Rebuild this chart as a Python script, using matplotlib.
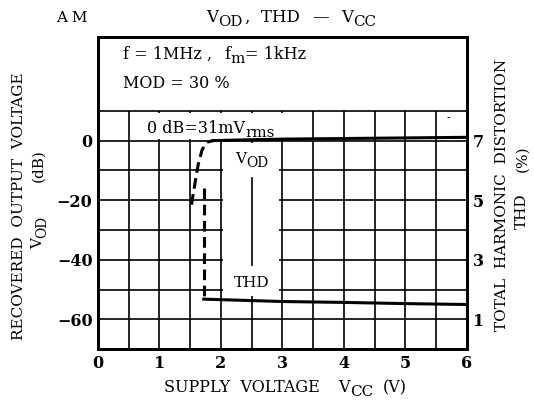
import numpy as np
import matplotlib
matplotlib.use("Agg")
import matplotlib.pyplot as plt
from matplotlib.patches import Rectangle
from matplotlib.transforms import ScaledTranslation

plt.rcParams['font.family'] = ['DejaVu Serif']
plt.rcParams['mathtext.fontset'] = 'dejavuserif'

# V_OD (dB) vs Vcc : dashed part (unstable) and solid part
vod_dash_x = [1.52, 1.58, 1.63, 1.69, 1.74, 1.78, 1.87]
vod_dash_y = [-21.5, -14, -8, -3.3, -1.2, -0.5, 0]
vod_x = [1.87, 2.5, 3, 4, 5, 6]
vod_y = [0, 0.3, 0.5, 0.7, 0.9, 1.1]

# THD (%) vs Vcc
thd_dash_x = [1.72, 1.72]
thd_dash_y = [5.4, 1.68]
thd_x = [1.72, 3, 4, 5, 6]
thd_y = [1.68, 1.6, 1.57, 1.53, 1.5]

x_ticks = [0, 1, 2, 3, 4, 5, 6]
y_ticks = [0, -20, -40, -60]
y_ticklabels = ['0', '\u221220', '\u221240', '\u221260']
thd_ticks = [1, 3, 5, 7]

ytop = 34.7
fig = plt.figure(figsize=(5.34, 4.0), dpi=100)
ax = fig.add_axes([0.1835, 0.127, 0.691, 0.78])
ax.set_xlim(0, 6)
ax.set_ylim(-70, ytop)
renderer = fig.canvas.get_renderer()


def rich(x, y, parts, size=11, rot=0, ha='center', coords='fig'):
    """text made of segments: (string, lowering px, size factor, gap after px)"""
    if coords == 'data':
        x, y = fig.transFigure.inverted().transform(ax.transData.transform((x, y)))
    items = []
    adv = 0.0
    for s, low, k, gap in parts:
        t = fig.text(x, y, s, fontsize=size * k, rotation=rot, rotation_mode='anchor',
                     ha='left', va='baseline', zorder=6)
        bb = t.get_window_extent(renderer)
        items.append((t, adv, low))
        adv += (bb.width if rot == 0 else bb.height) + gap
    shift = -adv / 2 if ha == 'center' else 0.0
    for t, a, low in items:
        a += shift
        dx, dy = (a, -low) if rot == 0 else (low, a)
        t.set_transform(fig.transFigure + ScaledTranslation(dx / fig.dpi, dy / fig.dpi,
                                                            fig.dpi_scale_trans))


# grid only in the lower part of the box
ax.vlines(np.arange(0.5, 6, 0.5), -70, 10, color='black', lw=1.2, zorder=1)
ax.hlines(np.arange(-60, 11, 10), 0, 6, color='black', lw=1.2, zorder=1)

# white label areas that hide the grid
ax.add_patch(Rectangle((0.56, 0.6), 2.74, 8.8, facecolor='white', edgecolor='none', zorder=2))
ax.add_patch(Rectangle((2.04, -52.0), 0.91, 51.2, facecolor='white', edgecolor='none', zorder=2))
ax.plot([2.5, 2.5], [-12.7, -41.7], color='black', lw=1.2, zorder=3)

ax.plot(vod_dash_x, vod_dash_y, color='black', lw=2.2, ls=(0, (3.5, 1.8)), zorder=4)
ax.plot(vod_x, vod_y, color='black', lw=2.2, zorder=4)

ax.set_xticks(x_ticks)
ax.set_yticks(y_ticks)
ax.set_yticklabels(y_ticklabels)
ax.tick_params(length=0, labelsize=11.5, pad=4)
for lab in ax.get_xticklabels() + ax.get_yticklabels():
    lab.set_fontweight('bold')
for s in ax.spines.values():
    s.set_linewidth(2)

ax2 = ax.twinx()
ax2.set_ylim(0, 7 + ytop / 10)
ax2.plot(thd_dash_x, thd_dash_y, color='black', lw=2.2, ls=(0, (3.5, 1.8)), zorder=4)
ax2.plot(thd_x, thd_y, color='black', lw=2.2, zorder=4)
ax2.set_yticks(thd_ticks)
ax2.tick_params(length=0, labelsize=11.5, pad=4)
for lab in ax2.get_yticklabels():
    lab.set_fontweight('bold')
for s in ax2.spines.values():
    s.set_linewidth(2)

ax.text(5.7, 7.4, '-', fontsize=8, ha='center', va='center', zorder=5)

# texts inside the box
rich(0.41, 27.5, [('f = 1MHz ,', 0, 1, 12), ('f', 0, 1, 0), ('m', 4, 0.95, 0),
                  ('= 1kHz', 0, 1, 0)], size=11.5, ha='left', coords='data')
rich(0.41, 17.8, [('MOD = 30 %', 0, 1, 0)], size=11.5, ha='left', coords='data')
rich(0.8, 2.5, [('0 dB=31mV', 0, 1, 0), ('rms', 4, 0.95, 0)], size=11.5,
     ha='left', coords='data')
rich(2.5, -7.5, [('V', 0, 1, 0), ('OD', 4, 0.9, 0)], size=11, coords='data')
rich(2.5, -49, [('THD', 0, 1, 0)], size=11, coords='data')

# axis titles
rich(0.535, 1 - 392 / 400, [('SUPPLY  VOLTAGE', 0, 1, 18), ('V', 0, 1, 0),
                            ('CC', 4, 0.95, 10), ('(V)', 0, 1, 0)], size=11.5)
rich(23 / 534, 1 - 206 / 400, [('RECOVERED  OUTPUT  VOLTAGE', 0, 1, 0)], size=11, rot=90)
rich(42 / 534, 1 - 199 / 400, [('V', 0, 1, 0), ('OD', 4, 0.9, 34), ('(dB)', 0, 1, 0)],
     size=11, rot=90)
rich(506 / 534, 1 - 195 / 400, [('TOTAL  HARMONIC  DISTORTION', 0, 1, 0)], size=11, rot=90)
rich(526 / 534, 1 - 187 / 400, [('THD', 0, 1, 22), ('(%)', 0, 1, 0)], size=11, rot=90)

# heading
rich(72 / 534, 1 - 22 / 400, [('A M', 0, 1, 0)], size=11)
rich(291 / 534, 1 - 22 / 400, [('V', 0, 1, 0), ('OD', 4, 0.9, 3), (',  THD', 0, 1, 12),
                               ('\u2014', 0, 1, 12), ('V', 0, 1, 0), ('CC', 4, 0.9, 0)],
     size=12)

fig.savefig('out.png', dpi=100)
